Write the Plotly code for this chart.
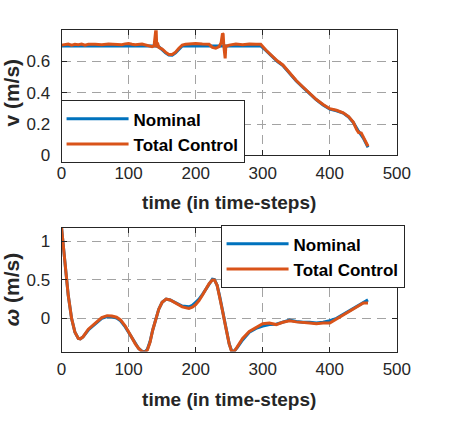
import plotly.graph_objects as go

# ---------------- data: top panel (linear velocity v) ----------------
t_v_nom = [0, 10, 50, 100, 140, 145, 150, 155, 160, 165, 170, 175, 180, 200, 250, 290, 297,
           305, 315, 322, 330, 340, 350, 360, 370, 380, 390, 400, 410, 420, 428, 435, 442, 450, 457]
v_nom = [0.70, 0.70, 0.70, 0.70, 0.70, 0.695, 0.675, 0.655, 0.642, 0.640, 0.655, 0.680, 0.700, 0.700,
         0.700, 0.700, 0.700, 0.670, 0.625, 0.600, 0.575, 0.525, 0.475, 0.435, 0.395, 0.355, 0.322,
         0.295, 0.285, 0.270, 0.245, 0.210, 0.160, 0.110, 0.050]

t_v_tot = [0, 5, 10, 15, 20, 25, 30, 35, 40, 50, 60, 70, 80, 90, 95, 100, 105, 110, 120, 125, 130,
           135, 138, 140, 141, 142, 143, 145, 148, 150, 155, 160, 165, 170, 175, 180, 185, 190, 200,
           210, 220, 225, 230, 235, 238, 240, 241, 242, 243, 244, 245, 247, 250, 255, 260, 270, 280,
           290, 297, 305, 315, 322, 330, 340, 350, 360, 370, 380, 390, 400, 410, 420, 428, 435, 440,
           443, 447, 452, 457]
v_tot = [0.705, 0.710, 0.712, 0.705, 0.710, 0.708, 0.712, 0.705, 0.710, 0.710, 0.708, 0.712, 0.710,
         0.708, 0.713, 0.715, 0.710, 0.708, 0.712, 0.705, 0.700, 0.695, 0.700, 0.820, 0.820, 0.690,
         0.720, 0.690, 0.685, 0.680, 0.660, 0.645, 0.645, 0.660, 0.685, 0.705, 0.710, 0.712, 0.715,
         0.712, 0.710, 0.690, 0.685, 0.695, 0.720, 0.780, 0.775, 0.700, 0.640, 0.620, 0.700, 0.700,
         0.705, 0.710, 0.712, 0.708, 0.712, 0.710, 0.710, 0.672, 0.628, 0.603, 0.578, 0.527, 0.478,
         0.437, 0.397, 0.357, 0.325, 0.298, 0.288, 0.272, 0.248, 0.212, 0.165, 0.145, 0.142, 0.100,
         0.058]

# ---------------- data: bottom panel (angular velocity omega) ----------------
t_w = [0, 3, 6, 10, 15, 20, 25, 28, 32, 40, 50, 60, 68, 75, 82, 88, 95, 100, 105, 110, 115, 120,
       125, 128, 132, 136, 140, 145, 150, 156, 162, 170, 180, 190, 195, 200, 205, 210, 215, 220,
       225, 228, 232, 236, 240, 245, 250, 254, 258, 262, 270, 280, 290, 300, 310, 320, 330, 340,
       350, 360, 370, 380, 390, 400, 410, 420, 430, 440, 450, 457]
w_nom = [1.18, 0.95, 0.65, 0.30, 0.00, -0.18, -0.26, -0.265, -0.24, -0.15, -0.07, 0.00, 0.025,
         0.02, 0.005, -0.03, -0.11, -0.18, -0.26, -0.33, -0.39, -0.425, -0.43, -0.40, -0.30, -0.15,
         -0.02, 0.12, 0.21, 0.25, 0.24, 0.20, 0.16, 0.15, 0.17, 0.21, 0.25, 0.31, 0.38, 0.45, 0.51,
         0.505, 0.43, 0.28, 0.10, -0.12, -0.33, -0.43, -0.42, -0.38, -0.28, -0.18, -0.13, -0.10,
         -0.08, -0.075, -0.05, -0.02, -0.04, -0.05, -0.05, -0.06, -0.05, -0.03, 0.00, 0.05, 0.10,
         0.15, 0.21, 0.24]
w_tot = [1.18, 0.95, 0.65, 0.30, 0.00, -0.18, -0.26, -0.265, -0.24, -0.14, -0.06, 0.01, 0.035,
         0.03, 0.015, -0.02, -0.10, -0.17, -0.25, -0.33, -0.39, -0.43, -0.44, -0.41, -0.31, -0.15,
         -0.02, 0.12, 0.21, 0.25, 0.24, 0.20, 0.15, 0.13, 0.145, 0.18, 0.23, 0.30, 0.38, 0.45, 0.50,
         0.50, 0.43, 0.28, 0.10, -0.12, -0.33, -0.44, -0.42, -0.37, -0.26, -0.17, -0.12, -0.07,
         -0.06, -0.08, -0.05, -0.03, -0.045, -0.05, -0.06, -0.07, -0.06, -0.06, -0.01, 0.04, 0.09,
         0.14, 0.20, 0.20]

x_ticks = [0, 100, 200, 300, 400, 500]
v_ticks = [0, 0.2, 0.4, 0.6]
w_ticks = [0, 0.5, 1]
w_tick_text = ["0", "0.5", "1"]

BLUE = "#0072BD"
ORANGE = "#D95319"
AX = "#262626"
FONT = "Liberation Sans"

fig = go.Figure()
fig.add_trace(go.Scatter(x=t_v_nom, y=v_nom, mode="lines", name="Nominal",
                         line=dict(color=BLUE, width=3), xaxis="x", yaxis="y", legend="legend"))
fig.add_trace(go.Scatter(x=t_v_tot, y=v_tot, mode="lines", name="Total Control",
                         line=dict(color=ORANGE, width=3), xaxis="x", yaxis="y", legend="legend"))
fig.add_trace(go.Scatter(x=t_w, y=w_nom, mode="lines", name="Nominal",
                         line=dict(color=BLUE, width=3), xaxis="x2", yaxis="y2", legend="legend2"))
fig.add_trace(go.Scatter(x=t_w, y=w_tot, mode="lines", name="Total Control",
                         line=dict(color=ORANGE, width=3), xaxis="x2", yaxis="y2", legend="legend2"))

W, H = 453, 425
xd = [59 / W, 409 / W]
top_d = [1 - 159 / H, 1 - 31 / H]
bot_d = [1 - 360 / H, 1 - 233 / H]

axis_common = dict(
    showline=True, linecolor=AX, linewidth=1, mirror="allticks",
    ticks="inside", ticklen=5, tickcolor=AX,
    showgrid=True, gridcolor="#a3a3a3", griddash="9px,6px", gridwidth=1,
    zeroline=False,
    tickfont=dict(family=FONT, size=17, color=AX),
)
xtitle_font = dict(family=FONT, size=19, color=AX, weight="bold")
ytitle_font = dict(family=FONT, size=21, color=AX, weight="bold")
legend_font = dict(family=FONT, size=17, color="black", weight="bold")

fig.update_layout(
    width=W, height=H,
    margin=dict(l=0, r=0, t=0, b=0),
    paper_bgcolor="white", plot_bgcolor="white",
    showlegend=True,
    xaxis=dict(domain=xd, anchor="y", range=[0, 500], tickvals=x_ticks, ticklabelstandoff=2,
               title=dict(text="time (in time-steps)", font=xtitle_font, standoff=14),
               **axis_common),
    yaxis=dict(domain=top_d, anchor="x", range=[0, 0.8], tickvals=v_ticks, ticklabelstandoff=7,
               title=dict(text="v (m/s)", font=ytitle_font, standoff=3),
               **axis_common),
    xaxis2=dict(domain=xd, anchor="y2", range=[0, 500], tickvals=x_ticks, ticklabelstandoff=2,
                title=dict(text="time (in time-steps)", font=xtitle_font, standoff=14),
                **axis_common),
    yaxis2=dict(domain=bot_d, anchor="x2", range=[-0.43, 1.18], tickvals=w_ticks,
                ticktext=w_tick_text, ticklabelstandoff=7,
                title=dict(text="<i>ω</i> (m/s)", font=ytitle_font, standoff=3),
                **axis_common),
    legend=dict(x=58 / W, y=1 - 135 / H, xanchor="left", yanchor="middle",
                bgcolor="white", bordercolor=AX, borderwidth=1, itemwidth=62,
                font=legend_font, tracegroupgap=0),
    legend2=dict(x=225 / W, y=1 - 263 / H, xanchor="left", yanchor="middle",
                 bgcolor="white", bordercolor=AX, borderwidth=1, itemwidth=62,
                 font=legend_font, tracegroupgap=0),
)

fig.write_html("out.html")
